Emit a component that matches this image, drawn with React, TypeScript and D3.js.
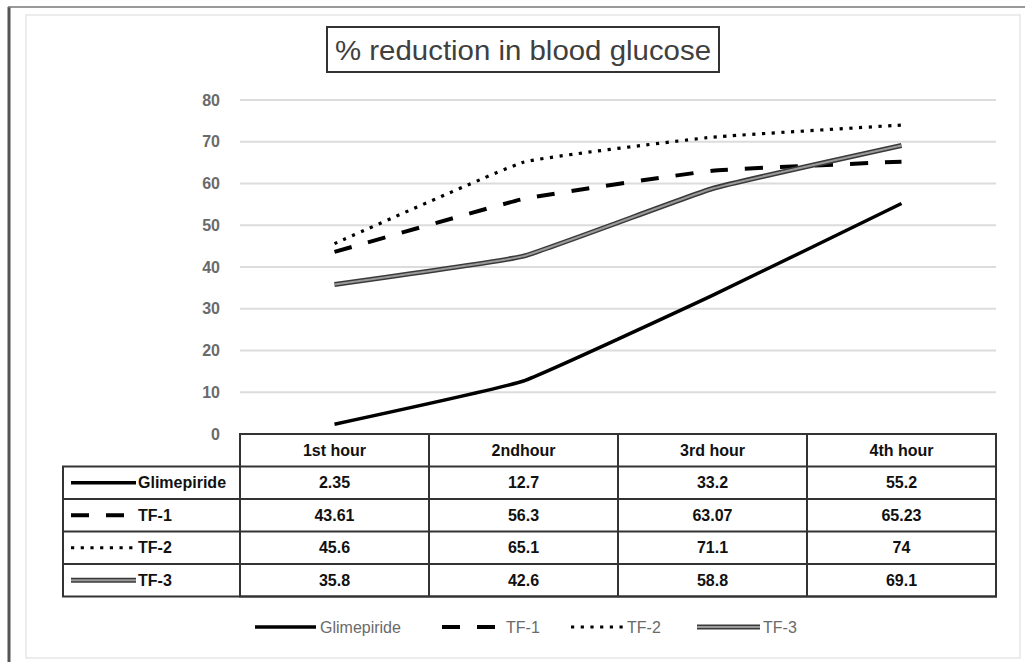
import * as d3 from 'd3';

const WIDTH = 1025;
const HEIGHT = 662;

const hours = ['1st hour', '2ndhour', '3rd hour', '4th hour'];
const seriesNames = ['Glimepiride', 'TF-1', 'TF-2', 'TF-3'];
const glimepiride = [2.35, 12.7, 33.2, 55.2];
const tf1 = [43.61, 56.3, 63.07, 65.23];
const tf2 = [45.6, 65.1, 71.1, 74];
const tf3 = [35.8, 42.6, 58.8, 69.1];
const yTicks = [0, 10, 20, 30, 40, 50, 60, 70, 80];
const labels = [
  ['2.35', '12.7', '33.2', '55.2'],
  ['43.61', '56.3', '63.07', '65.23'],
  ['45.6', '65.1', '71.1', '74'],
  ['35.8', '42.6', '58.8', '69.1'],
];

const PLOT = { left: 240, right: 996, top: 100, bottom: 434 };
const ROW_H = 32.5;
const TABLE_LEFT = 63;
const FONT = "'Liberation Sans', sans-serif";

type Style = { kind: 'solid' | 'dash' | 'dot' | 'double' };
const styles: Style[] = [{ kind: 'solid' }, { kind: 'dash' }, { kind: 'dot' }, { kind: 'double' }];

// draws one line in a given style, used for plot lines and legend samples
const StyledPath = ({ d, kind }: { d: string; kind: Style['kind'] }) => {
  if (kind === 'double') {
    return (
      <g>
        <path d={d} fill="none" stroke="#3a3a3a" strokeWidth={5} />
        <path d={d} fill="none" stroke="#9a9a9a" strokeWidth={2} />
      </g>
    );
  }
  if (kind === 'dash') {
    return <path d={d} fill="none" stroke="#000" strokeWidth={4} strokeDasharray="18 17" />;
  }
  if (kind === 'dot') {
    return <path d={d} fill="none" stroke="#000" strokeWidth={3.2} strokeDasharray="3.2 6.5" />;
  }
  return <path d={d} fill="none" stroke="#000" strokeWidth={3.5} />;
};

const App = () => {
  const xScale = d3.scaleBand().domain(hours).range([PLOT.left, PLOT.right]);
  const yScale = d3.scaleLinear().domain([0, 80]).range([PLOT.bottom, PLOT.top]);

  const data = [glimepiride, tf1, tf2, tf3];
  const line = d3
    .line<number>()
    .x((_, i) => (xScale(hours[i]) ?? 0) + xScale.bandwidth() / 2)
    .y((v) => yScale(v))
    .curve(d3.curveCardinal.tension(0.7));

  const colEdges = hours.map((h) => xScale(h) ?? 0).concat([PLOT.right]);
  const tableBottom = PLOT.bottom + ROW_H * 5;

  // legend at bottom
  const legendItems = [
    { x: 255, w: 61, tx: 320 },
    { x: 442, w: 58, tx: 506 },
    { x: 571, w: 52, tx: 627 },
    { x: 697, w: 63, tx: 763 },
  ];

  return (
    <svg width={WIDTH} height={HEIGHT} style={{ position: 'absolute', left: 0, top: 0, background: '#fff' }}>
      {/* frames */}
      <line x1={9} x2={9} y1={7} y2={HEIGHT} stroke="#555" strokeWidth={3} />
      <line x1={8} x2={WIDTH} y1={7} y2={7} stroke="#777" strokeWidth={1.5} />
      <rect x={26} y={15} width={994} height={643} fill="none" stroke="#e6e6e6" strokeWidth={1.5} />

      {/* title */}
      <rect x={327} y={27} width={392} height={45} fill="#fff" stroke="#333" strokeWidth={2} />
      <text
        x={523}
        y={60}
        textAnchor="middle"
        fontFamily={FONT}
        fontSize={28}
        fill="#404040"
        textLength={376}
        lengthAdjust="spacingAndGlyphs"
      >
        % reduction in blood glucose
      </text>

      {/* grid */}
      {yTicks.map((t) => (
        <g key={t}>
          {t > 0 && (
            <line x1={PLOT.left} x2={PLOT.right} y1={yScale(t)} y2={yScale(t)} stroke="#dcdcdc" strokeWidth={2} />
          )}
          <text
            x={PLOT.left - 20}
            y={yScale(t)}
            textAnchor="end"
            dominantBaseline="central"
            fontFamily={FONT}
            fontSize={16}
            fontWeight="bold"
            fill="#6a6a6a"
          >
            {t}
          </text>
        </g>
      ))}

      {/* series */}
      {data.map((vals, i) => (
        <StyledPath key={i} d={line(vals) ?? ''} kind={styles[i].kind} />
      ))}

      {/* data table */}
      <g stroke="#333" strokeWidth={2} fill="none">
        <rect x={PLOT.left} y={PLOT.bottom} width={PLOT.right - PLOT.left} height={ROW_H * 5} />
        <rect x={TABLE_LEFT} y={PLOT.bottom + ROW_H} width={PLOT.right - TABLE_LEFT} height={ROW_H * 4} />
        {colEdges.slice(1, -1).map((x, i) => (
          <line key={i} x1={x} x2={x} y1={PLOT.bottom} y2={tableBottom} />
        ))}
        {[2, 3, 4].map((r) => (
          <line key={r} x1={TABLE_LEFT} x2={PLOT.right} y1={PLOT.bottom + ROW_H * r} y2={PLOT.bottom + ROW_H * r} />
        ))}
      </g>
      {hours.map((h) => (
        <text
          key={h}
          x={(xScale(h) ?? 0) + xScale.bandwidth() / 2}
          y={PLOT.bottom + ROW_H / 2}
          textAnchor="middle"
          dominantBaseline="central"
          fontFamily={FONT}
          fontSize={16}
          fontWeight="bold"
          fill="#111"
        >
          {h}
        </text>
      ))}
      {seriesNames.map((name, r) => {
        const cy = PLOT.bottom + ROW_H * (r + 1.5);
        return (
          <g key={name}>
            <StyledPath d={`M${TABLE_LEFT + 8},${cy}L${TABLE_LEFT + 73},${cy}`} kind={styles[r].kind} />
            <text
              x={TABLE_LEFT + 75}
              y={cy}
              dominantBaseline="central"
              fontFamily={FONT}
              fontSize={16}
              fontWeight="bold"
              fill="#111"
            >
              {name}
            </text>
            {labels[r].map((v, c) => (
              <text
                key={c}
                x={(xScale(hours[c]) ?? 0) + xScale.bandwidth() / 2}
                y={cy}
                textAnchor="middle"
                dominantBaseline="central"
                fontFamily={FONT}
                fontSize={16}
                fontWeight="bold"
                fill="#111"
              >
                {v}
              </text>
            ))}
          </g>
        );
      })}

      {/* legend */}
      {legendItems.map((it, i) => (
        <g key={i}>
          <StyledPath d={`M${it.x},627L${it.x + it.w},627`} kind={styles[i].kind} />
          <text x={it.tx} y={627} dominantBaseline="central" fontFamily={FONT} fontSize={16} fill="#6a6a6a">
            {seriesNames[i]}
          </text>
        </g>
      ))}
    </svg>
  );
};

export default App;
